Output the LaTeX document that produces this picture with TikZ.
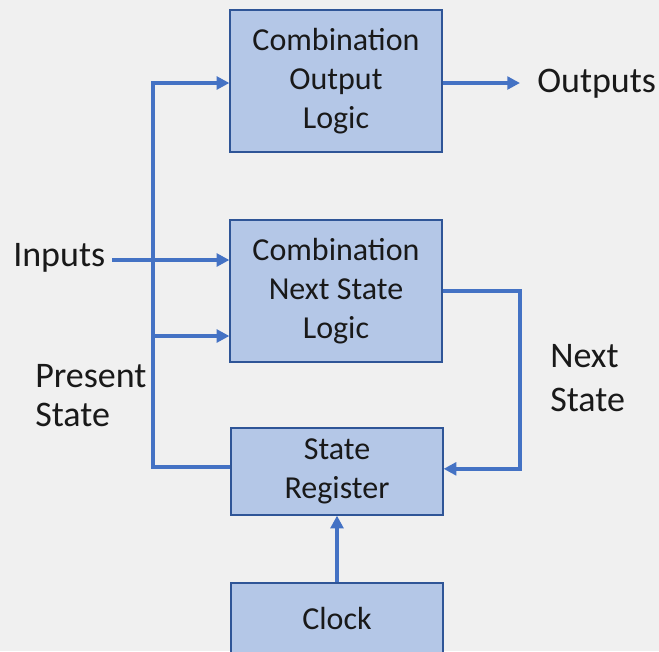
\documentclass[tikz,border=0pt]{standalone}
\usepackage{fontspec}
\setmainfont{Carlito}
\usetikzlibrary{arrows.meta}

\definecolor{boxfill}{HTML}{B4C7E7}
\definecolor{boxline}{HTML}{2F5597}
\definecolor{wireblue}{HTML}{4472C4}
\definecolor{paper}{HTML}{F0F0F0}

\begin{document}
\begin{tikzpicture}[x=0.75pt, y=-0.75pt,
  font=\fontsize{24}{29.25}\selectfont,
  block/.style={draw=boxline, line width=0.9pt, fill=boxfill, align=center,
    minimum width=159pt, text=black!90},
  tag/.style={inner sep=0pt, text=black!90, font=\fontsize{27}{29.25}\selectfont},
  wire/.style={wireblue, line width=3pt},
  arr/.style={-{Triangle[length=9.5pt,width=9.5pt]}}]

  % Canvas
  \fill[paper] (0,0) rectangle (659,651);
  \useasboundingbox (0,0) rectangle (659,651);

  % Blocks
  \node[block, minimum height=106.5pt] (outlogic)  at (336,81)    {Combination\\Output\\Logic};
  \node[block, minimum height=106.5pt] (nextlogic) at (336,291)   {Combination\\Next State\\Logic};
  \node[block, minimum height=65.25pt] (statereg)  at (337,471.5) {State\\Register};
  \node[block, minimum height=53.25pt] (clock)     at (337,618.5) {Clock};

  % Outside labels
  \node[tag, anchor=west] (inputs)  at (13,258)  {Inputs};
  \node[tag, anchor=west] (outputs) at (537,84)  {Outputs};
  \node[tag, anchor=west, align=left] (pslabel) at (35,396)  {Present\\State};
  \node[tag, anchor=west, align=left, font=\fontsize{27}{32.4}\selectfont] (nslabel) at (550,378) {Next\\State};

  % Bus corners
  \coordinate (bustop) at (153,83);   % feeds output logic
  \coordinate (busmid) at (153,336);  % feeds next state logic
  \coordinate (nsturn) at (520,380);  % next state return

  % Connectors
  \draw[wire, arr] ([yshift=3.4pt]statereg.west) -| (bustop) -- (bustop -| outlogic.west);
  \draw[wire, arr] (busmid) -- (busmid -| nextlogic.west);
  \draw[wire, arr, shorten <=5pt] (inputs.east |- 0,260) -- (nextlogic.west |- 0,260);
  \draw[wire, arr, shorten >=12.75pt] (outlogic.east |- bustop) -- (outputs.west |- bustop);
  \draw[wire, arr] (nextlogic.east) -| (nsturn) |- ([yshift=2pt]statereg.east);
  \draw[wire, arr] (clock.north) -- (statereg.south);

\end{tikzpicture}
\end{document}
